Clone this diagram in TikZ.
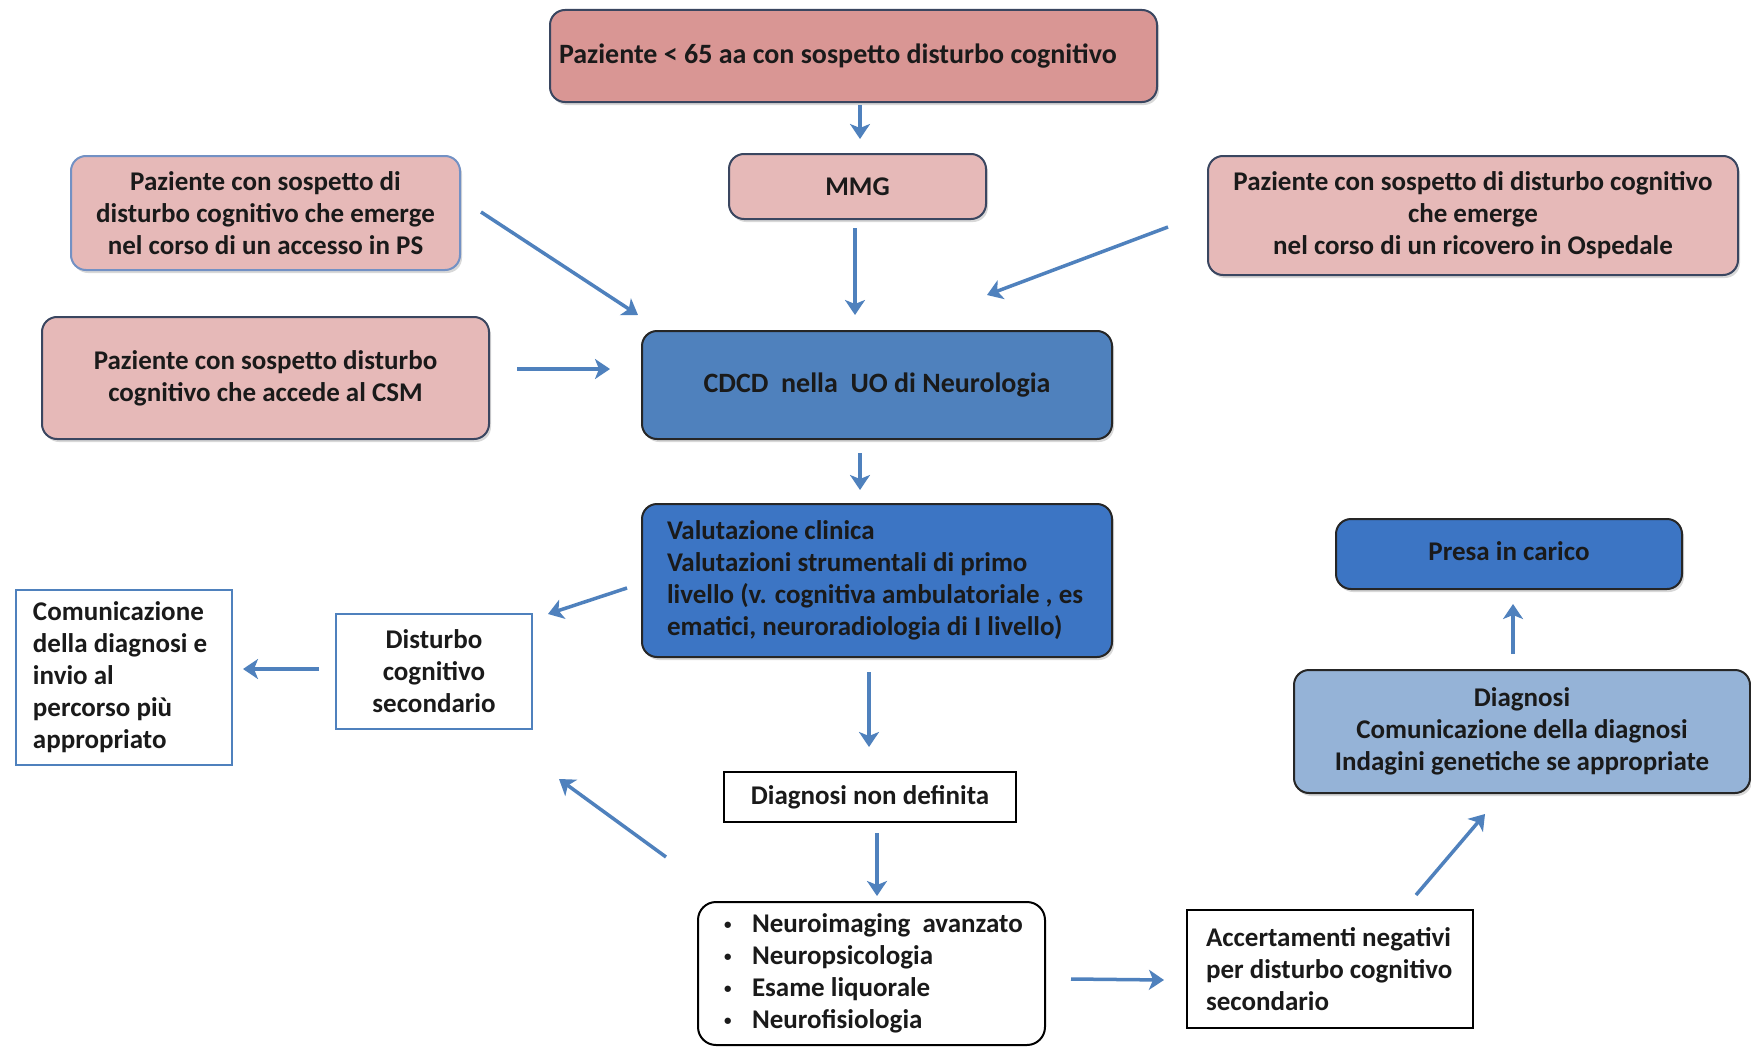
\documentclass[tikz,border=0pt]{standalone}
\usepackage{fontspec}
\setmainfont{Carlito}
\usetikzlibrary{arrows.meta,shadows,calc}
\definecolor{pinkA}{HTML}{D99694}
\definecolor{pinkB}{HTML}{E6B9B8}
\definecolor{bordA}{HTML}{3A4660}
\definecolor{bordB}{HTML}{7391C4}
\definecolor{blueA}{HTML}{4F81BD}
\definecolor{blueB}{HTML}{3C75C4}
\definecolor{blueC}{HTML}{95B3D7}
\definecolor{arrc}{HTML}{4F81BD}
\definecolor{txt}{HTML}{1A1A1A}
\newcommand\lfbox[3]{\makebox[#1pt][l]{\hspace{#2pt}\raisebox{-3pt}{\parbox[c]{\dimexpr#1pt-#2pt\relax}{\raggedright #3}}}}
\newcommand\smbul{\makebox[28pt][l]{\raisebox{3pt}{\fontsize{15}{15}\selectfont•}}}
\tikzset{
  box/.style={draw=bordA, line width=2pt, rounded corners=15pt, text=txt,
    font=\fontsize{27}{32}\selectfont\bfseries, align=center, inner sep=0pt,
    drop shadow={shadow xshift=2pt, shadow yshift=-3pt, opacity=0.3}},
  plainbox/.style={draw=black, line width=2pt, text=txt, fill=white,
    font=\fontsize{27}{32}\selectfont\bfseries, inner sep=0pt},
  arr/.style={draw=arrc, line width=3.5pt, -{Stealth[length=15pt,width=20pt,inset=4pt]}},
}
\begin{document}
\begin{tikzpicture}[x=1pt,y=-1pt]
\useasboundingbox (0,0) rectangle (1751,1049);
\fill[white] (0,0) rectangle (1751,1049);

% nodes
\node[box, fill=pinkA, minimum width=607pt, minimum height=92pt, font=\fontsize{28}{32}\selectfont\bfseries] (top) at (853.5,56)
  {\lfbox{607}{9}{Paziente < 65 aa con sospetto disturbo cognitivo}};
\node[box, fill=pinkB, minimum width=257pt, minimum height=65pt] (mmg) at (857.5,186.5) {MMG};
\node[box, fill=pinkB, draw=bordB, minimum width=389pt, minimum height=114pt] (ps) at (265.5,213)
  {Paziente con sospetto di\\disturbo cognitivo che emerge\\nel corso di un accesso in PS};
\node[box, fill=pinkB, minimum width=447pt, minimum height=122pt] (csm) at (265.5,378)
  {Paziente con sospetto disturbo\\cognitivo che accede al CSM};
\node[box, fill=pinkB, minimum width=530pt, minimum height=119pt] (osp) at (1473,215.5)
  {Paziente con sospetto di disturbo cognitivo\\che emerge\\nel corso di un ricovero in Ospedale};
\node[box, fill=blueA, draw=black!85, minimum width=470pt, minimum height=108pt, font=\fontsize{28}{32}\selectfont\bfseries] (cdcd) at (877,385)
  {CDCD\ \ nella\ \ UO di Neurologia};
\node[box, fill=blueB, draw=black!85, minimum width=470pt, minimum height=153pt] (val) at (877,580.5)
  {\lfbox{470}{25}{Valutazione clinica\\Valutazioni strumentali di primo\\livello (v. cognitiva ambulatoriale , es\\ematici, neuroradiologia di I livello)}};
\node[plainbox, draw=blueA, minimum width=196pt, minimum height=115pt, align=center] (dist) at (434,671.5)
  {Disturbo\\cognitivo\\secondario};
\node[plainbox, draw=blueA, minimum width=216pt, minimum height=175pt] (comm) at (124,677.5)
  {\lfbox{216}{17}{Comunicazione\\della diagnosi e\\invio al\\percorso più\\appropriato}};
\node[plainbox, minimum width=292pt, minimum height=50pt] (dnd) at (870,797) {Diagnosi non definita};
\node[plainbox, rounded corners=18pt, minimum width=347pt, minimum height=143pt] (bul) at (871.5,973.5)
  {\lfbox{347}{26}{\smbul Neuroimaging\ \ avanzato\\\smbul Neuropsicologia\\\smbul Esame liquorale\\\smbul Neurofisiologia}};
\node[plainbox, minimum width=286pt, minimum height=118pt] (acc) at (1330,969)
  {\lfbox{286}{19}{Accertamenti negativi\\per disturbo cognitivo\\secondario}};
\node[box, fill=blueC, draw=black!85, minimum width=456pt, minimum height=123pt] (diag) at (1522,731.5)
  {Diagnosi\\Comunicazione della diagnosi\\Indagini genetiche se appropriate};
\node[box, fill=blueB, draw=black!85, minimum width=346pt, minimum height=70pt] (presa) at (1509,554) {\raisebox{5pt}{Presa in carico}};

% connectors
\draw[arr] ([shift={(6.5,2)}]top.south) -- ([shift={(2.5,-14)}]mmg.north);
\draw[arr] ([shift={(-2.5,8)}]mmg.south) -- ([shift={(-22,-15)}]cdcd.north);
\draw[arr] ([shift={(20,-1)}]ps.east) -- ([shift={(-3,-15)}]cdcd.north west);
\draw[arr] ([shift={(27,-9)}]csm.east) -- ([shift={(-31,-16)}]cdcd.west);
\draw[arr] ([shift={(-39,11.5)}]osp.west) -- ([shift={(110,-35)}]cdcd.north);
\draw[arr] ([shift={(-17,13)}]cdcd.south) -- ([shift={(-17,-13)}]val.north);
\draw[arr] ([shift={(-14,7.5)}]val.west) -- ([shift={(15,1)}]dist.north east);
\draw[arr] ([shift={(-16,-2.5)}]dist.west) -- ([shift={(10,-8.5)}]comm.east);
\draw[arr] ([shift={(-8,14)}]val.south) -- ([shift={(-1,-24)}]dnd.north);
\draw[arr] ([shift={(-31,-44)}]bul.north west) -- ([shift={(26,49)}]dist.south east);
\draw[arr] ([shift={(7,10)}]dnd.south) -- ([shift={(5.5,-5)}]bul.north);
\draw[arr] ([shift={(25,5.5)}]bul.east) -- ([shift={(-22,11)}]acc.west);
\draw[arr] ([shift={(86,-14)}]acc.north) -- ([shift={(-37,20)}]diag.south);
\draw[arr] ([shift={(-9,-15)}]diag.north) -- ([shift={(4,14)}]presa.south);
\end{tikzpicture}
\end{document}
